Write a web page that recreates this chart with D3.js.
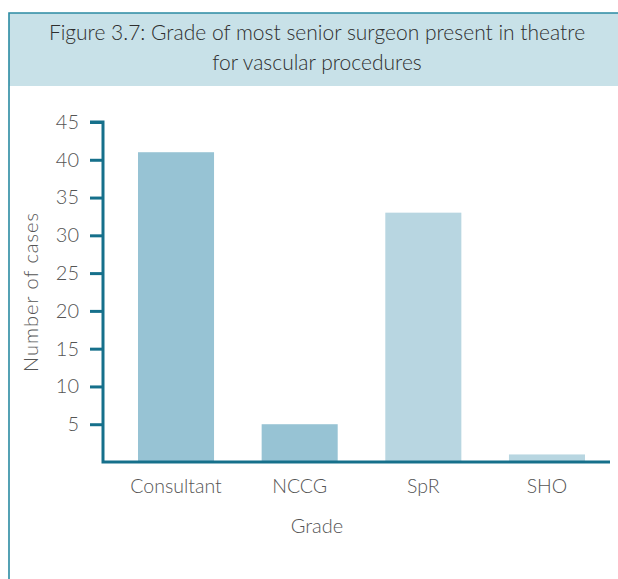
<!DOCTYPE html>
<meta charset="utf-8">
<script src="https://d3js.org/d3.v7.min.js"></script>
<style>
  body { margin: 0; background: #fff; }
  text { font-family: Lato, "DejaVu Sans", sans-serif; font-weight: 300; }
</style>
<div id="my_dataviz"></div>
<script>
  // data
  var grades = ["Consultant", "NCCG", "SpR", "SHO"];
  var cases = [41, 5, 33, 1];
  var barColors = ["#97c3d4", "#97c3d4", "#b8d6e1", "#b8d6e1"];
  var yTicks = [5, 10, 15, 20, 25, 30, 35, 40, 45];
  var titleLines = ["Figure 3.7: Grade of most senior surgeon present in theatre",
                    "for vascular procedures"];

  var w = 618, h = 579;
  var axisColor = "#16708b";

  var svg = d3.select("#my_dataviz")
    .append("svg")
    .attr("width", w)
    .attr("height", h);

  // header band + frame
  svg.append("rect")
    .attr("x", 9).attr("y", 13)
    .attr("width", w - 9).attr("height", 73)
    .attr("fill", "#c8e1e8");
  svg.append("path")
    .attr("d", "M9," + h + "V13H" + w)
    .attr("fill", "none")
    .attr("stroke", "#2b8ba2")
    .attr("stroke-width", 1.6);

  svg.selectAll(".title")
    .data(titleLines)
    .enter()
    .append("text")
    .attr("class", "title")
    .attr("x", 317)
    .attr("y", function (d, i) { return 40 + i * 30; })
    .attr("text-anchor", "middle")
    .attr("font-size", "21px")
    .attr("font-weight", 400)
    .attr("fill", "#2e2e2e")
    .text(function (d) { return d; });

  // scales
  var x = d3.scaleBand()
    .domain(grades)
    .range([114.5, 608.5])
    .paddingInner(0.385)
    .paddingOuter(0.19);

  var y = d3.scaleLinear()
    .domain([0, 45])
    .range([462, 122]);

  // bars
  svg.selectAll(".bar")
    .data(cases)
    .enter()
    .append("rect")
    .attr("class", "bar")
    .attr("x", function (d, i) { return x(grades[i]); })
    .attr("y", function (d) { return y(d); })
    .attr("width", x.bandwidth())
    .attr("height", function (d) { return y(0) - y(d); })
    .attr("fill", function (d, i) { return barColors[i]; });

  // y axis
  var yAxis = svg.append("g")
    .attr("transform", "translate(103,0)")
    .call(d3.axisLeft(y).tickValues(yTicks).tickSize(13).tickPadding(11));
  yAxis.select(".domain").remove();
  yAxis.selectAll(".tick line").attr("stroke", axisColor).attr("stroke-width", 3);
  yAxis.selectAll(".tick text")
    .attr("font-size", "20px")
    .attr("font-family", "Lato, 'DejaVu Sans', sans-serif")
    .attr("fill", "#555");

  svg.append("path")
    .attr("d", "M90," + y(45) + "H103V" + y(0) + "H610")
    .attr("fill", "none")
    .attr("stroke", axisColor)
    .attr("stroke-width", 3);

  // x axis labels
  var xAxis = svg.append("g")
    .attr("transform", "translate(0," + y(0) + ")")
    .call(d3.axisBottom(x).tickSize(0).tickPadding(17));
  xAxis.select(".domain").remove();
  xAxis.selectAll(".tick text")
    .attr("font-size", "19.5px")
    .attr("font-family", "Lato, 'DejaVu Sans', sans-serif")
    .attr("fill", "#555");

  // axis titles
  svg.append("text")
    .attr("x", 317)
    .attr("y", 533)
    .attr("text-anchor", "middle")
    .attr("font-size", "20px")
    .attr("fill", "#555")
    .text("Grade");

  svg.append("text")
    .attr("transform", "translate(38,292) rotate(-90)")
    .attr("text-anchor", "middle")
    .attr("font-size", "20px")
    .attr("letter-spacing", "1px")
    .attr("fill", "#555")
    .text("Number of cases");
</script>
